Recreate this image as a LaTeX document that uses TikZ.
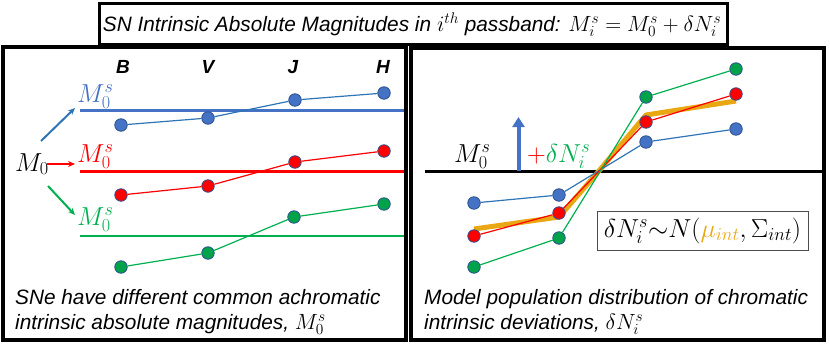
\RequirePackage{fix-cm}
\documentclass[tikz,border=0pt]{standalone}
\usepackage{fontspec}
\setmainfont{Liberation Sans}
\usetikzlibrary{arrows.meta}
\definecolor{mblue}{HTML}{4472C4}
\definecolor{lblue}{HTML}{2E75B6}
\definecolor{mred}{HTML}{FF0000}
\definecolor{mgreen}{HTML}{00B050}
\definecolor{dgreen}{HTML}{00A24A}
\definecolor{dotedge}{HTML}{2F528F}
\definecolor{gold}{HTML}{E9A813}
\newcommand{\txmath}[1]{{\fontsize{22}{24}\selectfont$#1$}}
\begin{document}
\begin{tikzpicture}[x=1pt,y=-1pt,
  panel/.style={draw=black,line width=4pt},
  txt/.style={font=\fontsize{20.8}{23}\selectfont\itshape,inner sep=0pt},
  band/.style={font=\fontsize{19}{21}\selectfont\bfseries\itshape,inner sep=0pt,anchor=base},
  mlab/.style={font=\fontsize{26}{28}\selectfont,inner sep=0pt,anchor=base west},
  dotb/.style={circle,draw=dotedge,line width=0.8pt,fill=mblue,minimum size=12.5pt,inner sep=0pt},
  dotr/.style={dotb,fill=mred},
  dotg/.style={dotb,fill=dgreen},
  thin/.style={line width=1.2pt},
  level/.style={line width=2.5pt},
  arr/.style={line width=2pt,-{Stealth[length=7pt,width=6pt]}}
]
\useasboundingbox (0,0) rectangle (830,348);
% panels
\draw[panel] (3,47) rectangle (406,340);
\draw[panel] (411,48) rectangle (824,340);
\draw[draw=black,line width=3pt,fill=white] (99,3) rectangle (727,44);
\node[txt,anchor=base] (title) at (412,31) {SN Intrinsic Absolute Magnitudes in \txmath{i^{th}} passband: \txmath{M_i^s=M_0^s+\delta N_i^s}};

% ---------- left panel ----------
\node[band] (bB) at (123,73) {B};
\node[band] (bV) at (208,73) {V};
\node[band] (bJ) at (293,73) {J};
\node[band] (bH) at (383,73) {H};

\node[mlab,text=black] (m0) at (15,171) {$M_0$};
\node[mlab,text=mblue] (lb) at (77,102) {$M_0^s$};
\node[mlab,text=mred] (lr) at (77,162) {$M_0^s$};
\node[mlab,text=mgreen] (lg) at (77,225) {$M_0^s$};

\coordinate (ab0) at (41,141); \coordinate (ab1) at (75,108);
\coordinate (ar0) at (47,164); \coordinate (ar1) at (75,164);
\coordinate (ag0) at (48,186); \coordinate (ag1) at (75,215);
\draw[arr,lblue] (ab0) -- (ab1);
\draw[arr,mred] (ar0) -- (ar1);
\draw[arr,mgreen] (ag0) -- (ag1);

\coordinate (hb0) at (80,110.5); \coordinate (hb1) at (404,110.5);
\coordinate (hr0) at (80,171.5); \coordinate (hr1) at (404,171.5);
\coordinate (hg0) at (80,236); \coordinate (hg1) at (404,236);
\draw[level,mblue] (hb0) -- (hb1);
\draw[level,mred] (hr0) -- (hr1);
\draw[level,mgreen] (hg0) -- (hg1);

\node[dotb] (b1) at (121,125) {};
\node[dotb] (b2) at (208,118) {};
\node[dotb] (b3) at (295,100) {};
\node[dotb] (b4) at (384,93) {};
\node[dotr] (r1) at (121,195) {};
\node[dotr] (r2) at (208,186) {};
\node[dotr] (r3) at (295,162) {};
\node[dotr] (r4) at (384,151) {};
\node[dotg] (g1) at (121,267) {};
\node[dotg] (g2) at (208,253) {};
\node[dotg] (g3) at (294,217) {};
\node[dotg] (g4) at (384,204) {};
\draw[thin,lblue] (b1) -- (b2) -- (b3) -- (b4);
\draw[thin,mred] (r1) -- (r2) -- (r3) -- (r4);
\draw[thin,mgreen] (g1) -- (g2) -- (g3) -- (g4);

\node[txt,anchor=base west] (c1) at (15,304) {SNe have different common achromatic};
\node[txt,anchor=base west] (c2) at (15,329) {intrinsic absolute magnitudes, \txmath{M_0^s}};

% ---------- right panel ----------
\coordinate (h0) at (425,171.5); \coordinate (h1) at (822,171.5);
\draw[level] (h0) -- (h1);
\node[mlab,text=black] (rm) at (454,162) {$M_0^s$};
\coordinate (ua0) at (518.5,171); \coordinate (ua1) at (518.5,117);
\draw[mblue,line width=4pt,-{Triangle[length=10pt,width=12pt]}] (ua0) -- (ua1);
\node[mlab] (dn) at (527,162) {$\textcolor{mred}{+}\textcolor{mgreen}{\delta N_i^s}$};

\coordinate (o1) at (474,229); \coordinate (o2) at (559,217);
\coordinate (oc) at (598,172);
\coordinate (o3) at (646,115); \coordinate (o4) at (736,101);
\draw[gold,line width=5pt,line join=round] (o1) -- (o2) -- (oc) -- (o3) -- (o4);

\node[dotb] (rb1) at (474,203) {};
\node[dotb] (rb2) at (559,195) {};
\node[dotb] (rb3) at (646,142) {};
\node[dotb] (rb4) at (736,129) {};
\node[dotr] (rr1) at (474,236) {};
\node[dotr] (rr2) at (559,213) {};
\node[dotr] (rr3) at (646,122) {};
\node[dotr] (rr4) at (736,94) {};
\node[dotg] (rg1) at (474,267) {};
\node[dotg] (rg2) at (559,238) {};
\node[dotg] (rg3) at (646,97) {};
\node[dotg] (rg4) at (736,69) {};
\draw[thin,lblue] (rb1) -- (rb2) -- (rb3) -- (rb4);
\draw[thin,mred] (rr1) -- (rr2) -- (rr3) -- (rr4);
\draw[thin,mgreen] (rg1) -- (rg2) -- (rg3) -- (rg4);

\node[draw=black!70,line width=1pt,minimum width=211pt,minimum height=39pt,inner sep=0pt,
      font=\fontsize{26}{28}\selectfont] (dist) at (702.5,230.5)
      {$\delta N_i^s{\sim}N(\textcolor{gold}{\mu_{int}},\Sigma_{int})$};

\node[txt,anchor=base west] (d1) at (424,304) {Model population distribution of chromatic};
\node[txt,anchor=base west] (d2) at (424,329) {intrinsic deviations, \txmath{\delta N_i^s}};
\end{tikzpicture}
\end{document}
